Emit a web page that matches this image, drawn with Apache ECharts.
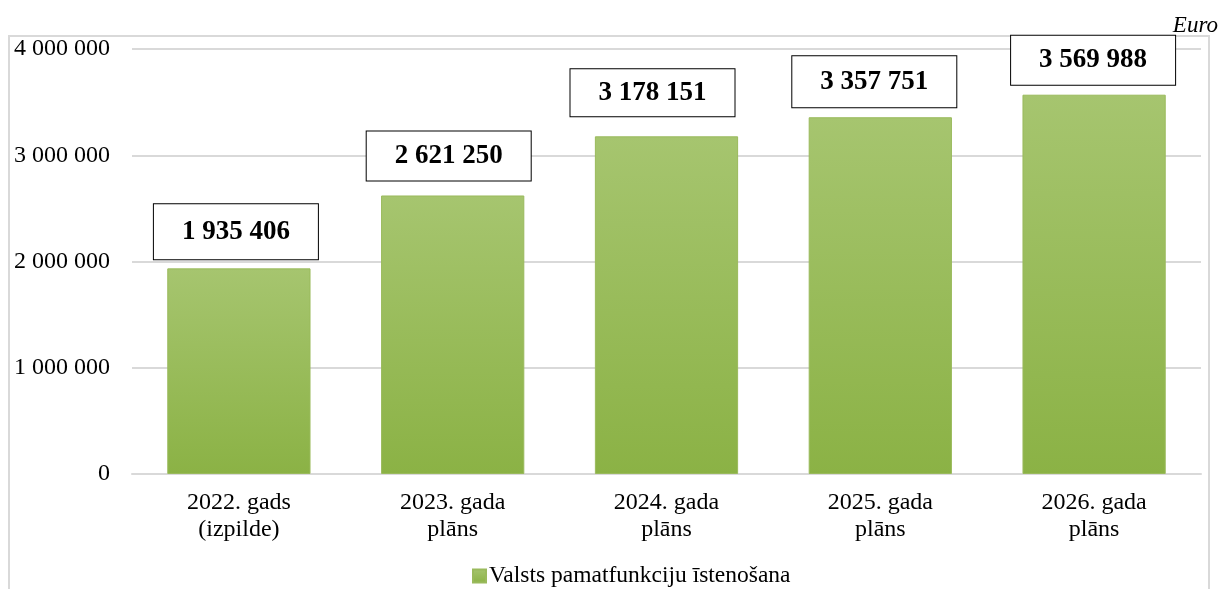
<!DOCTYPE html>
<html>
<head>
    <meta charset="utf-8" />
    <title>Valsts pamatfunkciju īstenošana</title>
    <script src="https://cdn.jsdelivr.net/npm/echarts@6/dist/echarts.min.js"></script>
    <style>
        html, body { margin: 0; padding: 0; background: #fff; }
        #main { width: 1222px; height: 589px; }
    </style>
</head>
<body>
    <div id="main"></div>
    <script type="text/javascript">
        // dati
        var categories = ['2022. gads\n(izpilde)', '2023. gada\nplāns', '2024. gada\nplāns', '2025. gada\nplāns', '2026. gada\nplāns'];
        var values = [1935406, 2621250, 3178151, 3357751, 3569988];
        var seriesName = 'Valsts pamatfunkciju īstenošana';
        var yTicks = [0, 1000000, 2000000, 3000000, 4000000];

        // etiķešu novietojums (kastītes nav vienādā attālumā no stabiņiem)
        var labelGap = [9, 15, 20, 10, 10];
        var labelShiftX = [-3, -4, -14, -6, -1];
        var labelPadY = [14, 11, 10, 12, 11];

        var font = '"Liberation Serif", "Times New Roman", serif';

        function fmt(v) {
            return String(v).replace(/\B(?=(\d{3})+(?!\d))/g, ' ');
        }

        var barData = values.map(function (v, i) {
            return {
                value: v,
                label: {
                    distance: labelGap[i],
                    offset: [labelShiftX[i], 0],
                    padding: [labelPadY[i], 28, labelPadY[i], 28]
                }
            };
        });

        var myChart = echarts.init(document.getElementById('main'), null, { renderer: 'canvas' });

        var option = {
            animation: false,
            backgroundColor: '#fff',
            textStyle: { fontFamily: font },
            graphic: [
                {
                    type: 'rect',
                    shape: { x: 9, y: 36, width: 1200, height: 600 },
                    style: { fill: 'none', stroke: '#d9d9d9', lineWidth: 2 },
                    silent: true
                },
                {
                    type: 'text',
                    right: 4,
                    top: 14,
                    style: { text: 'Euro', font: 'italic 23px ' + font, fill: '#000' }
                }
            ],
            grid: { left: 132, right: 21, top: 49, bottom: 115 },
            legend: {
                data: [seriesName],
                left: 467,
                top: 559,
                icon: 'rect',
                itemWidth: 13,
                itemHeight: 13,
                itemGap: 6,
                textStyle: { fontFamily: font, fontSize: 23.5, color: '#000', padding: [0, 0, 0, -2] }
            },
            xAxis: {
                type: 'category',
                data: categories,
                axisTick: { show: false },
                axisLine: { lineStyle: { color: '#d9d9d9', width: 2 } },
                axisLabel: { fontFamily: font, fontSize: 24, lineHeight: 27, color: '#000', margin: 15 }
            },
            yAxis: {
                type: 'value',
                min: yTicks[0],
                max: yTicks[yTicks.length - 1],
                interval: yTicks[1] - yTicks[0],
                axisLine: { show: false },
                axisTick: { show: false },
                splitLine: { lineStyle: { color: '#d9d9d9', width: 2 } },
                axisLabel: {
                    fontFamily: font, fontSize: 24, color: '#000', margin: 22,
                    formatter: function (v) { return fmt(v); }
                }
            },
            series: [{
                name: seriesName,
                type: 'bar',
                data: barData,
                barWidth: '67%',
                itemStyle: {
                    color: new echarts.graphic.LinearGradient(0, 0, 0, 1, [
                        { offset: 0, color: '#a6c56f' },
                        { offset: 1, color: '#8bb245' }
                    ]),
                    borderColor: '#9aba5c',
                    borderWidth: 1
                },
                label: {
                    show: true,
                    position: 'top',
                    formatter: function (p) { return fmt(p.value); },
                    fontFamily: font,
                    fontSize: 27,
                    fontWeight: 'bold',
                    color: '#000',
                    lineHeight: 27,
                    backgroundColor: '#fff',
                    borderColor: '#000',
                    borderWidth: 1
                }
            }]
        };

        myChart.setOption(option);
    </script>
</body>
</html>
